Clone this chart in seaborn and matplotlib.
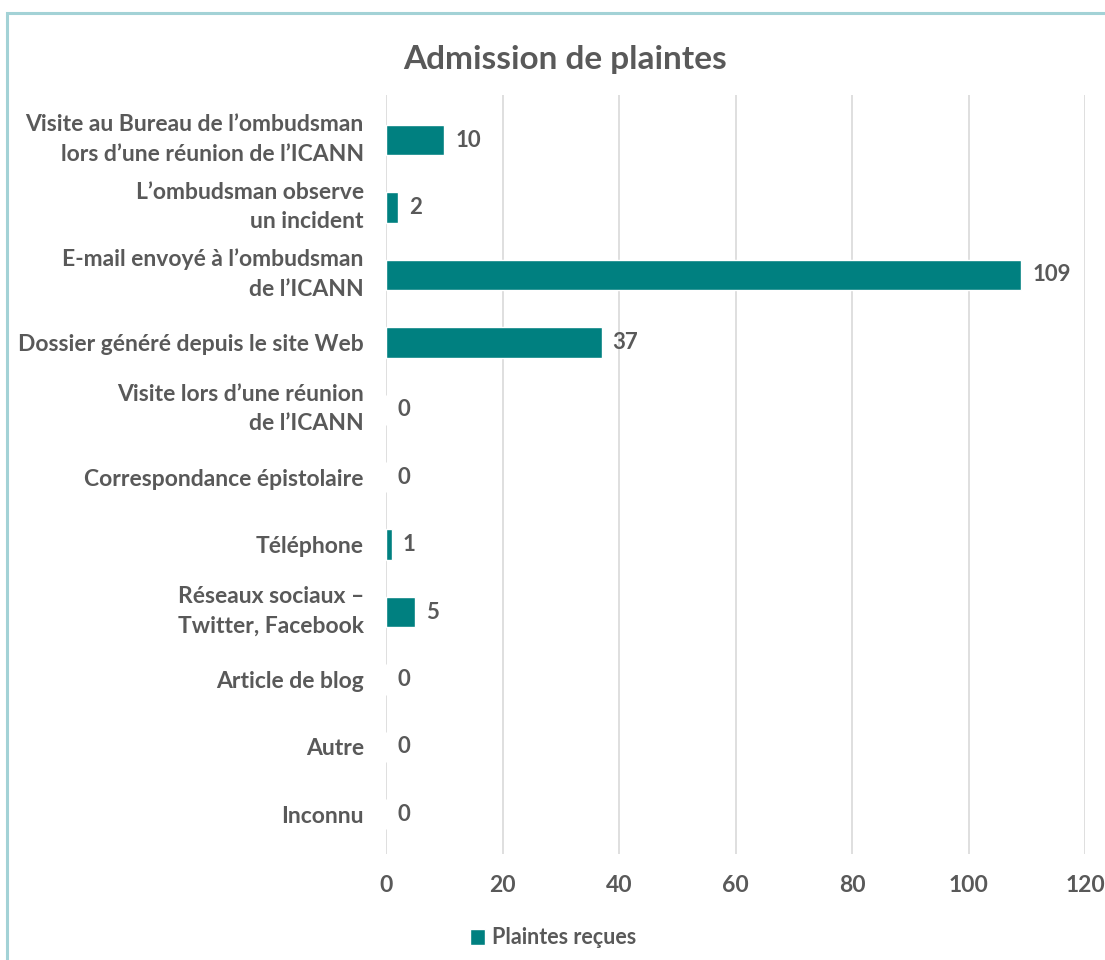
import matplotlib
matplotlib.use("Agg")
import matplotlib.pyplot as plt
import matplotlib.transforms as mtransforms
import seaborn as sns
import pandas as pd
from matplotlib.patches import Rectangle

categories = [
    "Visite au Bureau de l’ombudsman\nlors d’une réunion de l’ICANN",
    "L’ombudsman observe\nun incident",
    "E-mail envoyé à l’ombudsman\nde l’ICANN",
    "Dossier généré depuis le site Web",
    "Visite lors d’une réunion\nde l’ICANN",
    "Correspondance épistolaire",
    "Téléphone",
    "Réseaux sociaux –\nTwitter, Facebook",
    "Article de blog",
    "Autre",
    "Inconnu",
]
values = [10, 2, 109, 37, 0, 0, 1, 5, 0, 0, 0]
series_name = "Plaintes reçues"
title = "Admission de plaintes"
xticks = [0, 20, 40, 60, 80, 100, 120]

sns.set_theme(style="white")
plt.rcParams['font.family'] = ['Lato', 'DejaVu Sans']

TEAL = "#008080"
GRAY = "#595959"

df = pd.DataFrame({"cat": categories, "val": values})

fig = plt.figure(figsize=(11.05, 9.6), dpi=100)
ax = fig.add_axes([386/1105, 1-854/960, (1085-386)/1105, (854-95)/960])

sns.barplot(data=df, x="val", y="cat", color=TEAL, saturation=1, width=0.45,
            orient="h", ax=ax, label=series_name)

ax.set_xlim(0, 120)
ax.set_ylim(10.59, -0.67)
ax.set_xticks(xticks)
ax.set_xticklabels([str(t) for t in xticks], fontsize=16.5, fontweight="bold", color=GRAY)
ax.tick_params(axis="y", labelsize=16.5, labelcolor=GRAY, length=0, pad=16)
ax.tick_params(axis="x", length=0, pad=15)
ax.set_xlabel("")
ax.set_ylabel("")
ax.grid(axis="x", color="#D9D9D9", linewidth=1.2)
ax.set_axisbelow(True)
for s in ax.spines.values():
    s.set_visible(False)

for i, v in enumerate(values):
    ax.annotate(str(v), xy=(v, i), xytext=(8, 0), textcoords="offset points",
                ha="left", va="center", fontsize=16, fontweight="bold", color=GRAY)

fig.text(565/1105, 1-60/960, title, ha="center", va="center", fontsize=24,
         fontweight="bold", color=GRAY)

leg = ax.legend(loc="center", bbox_to_anchor=(553/1105, 1-938/960),
                bbox_transform=fig.transFigure, frameon=False, handlelength=0.7,
                handleheight=0.7, handletextpad=0.3,
                prop={"size": 15.5, "weight": "bold"})
for t in leg.get_texts():
    t.set_color(GRAY)

fig.patches.append(Rectangle((7/1105, -0.05), 1.2, 1-13/960+0.05,
                             transform=fig.transFigure, fill=False,
                             edgecolor="#A3D2D6", linewidth=2.2))

shift = mtransforms.ScaledTranslation(0, 0.07, fig.dpi_scale_trans)
for lbl in ax.get_yticklabels():
    lbl.set_fontweight("bold")
    lbl.set_linespacing(1.5)
    if "\n" in lbl.get_text():
        lbl.set_transform(lbl.get_transform() + shift)

fig.savefig("out.png", dpi=100, facecolor="white")
